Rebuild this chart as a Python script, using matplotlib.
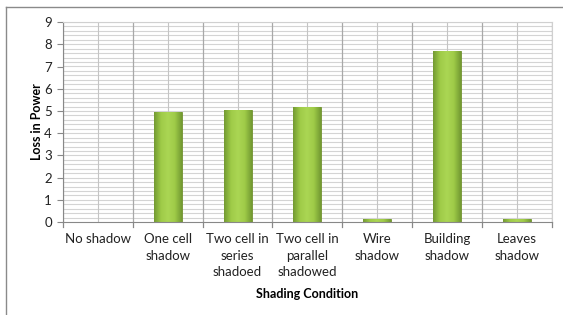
import numpy as np
import matplotlib.pyplot as plt
from matplotlib.lines import Line2D
from matplotlib.colors import LinearSegmentedColormap

categories = ["No shadow", "One cell\nshadow", "Two cell in\nseries\nshadoed",
              "Two cell in\nparallel\nshadowed", "Wire\nshadow", "Building\nshadow",
              "Leaves\nshadow"]
loss = [0.0, 4.95, 5.05, 5.2, 0.15, 7.7, 0.15]
y_ticks = list(range(0, 10))

plt.rcParams["font.family"] = ["Lato", "DejaVu Sans"]

fig = plt.figure(figsize=(5.63, 3.15), dpi=100)
ax = fig.add_axes([0.112, 0.295, 0.868, 0.635])

x = np.arange(len(categories))

# grid: fine horizontal lines every 0.2, vertical at boundaries and centres
for yv in np.arange(0.2, 9.01, 0.2):
    ax.axhline(yv, color="#d4d4d4", lw=0.8, zorder=0)
for xv in np.arange(-0.5, len(categories), 1.0):
    ax.axvline(xv, color="#a8a8a8", lw=0.9, zorder=0.5)
for xv in x:
    ax.axvline(xv, color="#c4c4c4", lw=0.8, zorder=0.5)

# gradient bars
cmap = LinearSegmentedColormap.from_list(
    "grn", ["#739a32", "#9fcb48", "#abd654", "#9fcb48", "#739a32"])
grad = np.linspace(0, 1, 64).reshape(1, -1)
width = 0.4
bars = ax.bar(x, loss, width=width, color="#9fcb48", edgecolor="#6f8f30",
              lw=0.6, zorder=2)
for b in bars:
    if b.get_height() <= 0:
        continue
    x0, y0 = b.get_x(), b.get_y()
    im = ax.imshow(grad, cmap=cmap, aspect="auto", zorder=2.5,
                   extent=[x0, x0 + b.get_width(), y0, y0 + b.get_height()])
    im.set_clip_path(b)
ax.set_xlim(-0.5, len(categories) - 0.5)
ax.set_ylim(0, 9)

ax.set_xticks(x)
ax.set_yticks(y_ticks)
ax.set_xticklabels(categories, fontsize=9.5, color="#222222", linespacing=1.45)
ax.set_yticklabels([str(v) for v in y_ticks], fontsize=9.5, color="#222222")
ax.tick_params(axis="y", length=4, color="#888888", pad=4)
ax.tick_params(axis="x", length=0, pad=8)
# tick marks on category boundaries
for xv in np.arange(-0.5, len(categories), 1.0):
    ax.plot([xv, xv], [0, -0.2], color="#888888", lw=0.9, clip_on=False)

for s in ["left", "bottom"]:
    ax.spines[s].set_color("#888888")
for s in ["top", "right"]:
    ax.spines[s].set_color("#d0d0d0")

ax.set_ylabel("Loss in Power", fontsize=9, fontweight="bold", labelpad=1)
ax.set_xlabel("Shading Condition", fontsize=9, fontweight="bold", labelpad=7)

# outer chart frame (left and top edges)
fig.add_artist(Line2D([6 / 563, 6 / 563], [0, 1 - 7 / 315], color="#8a8a8a", lw=1.0))
fig.add_artist(Line2D([6 / 563, 1], [1 - 7 / 315, 1 - 7 / 315], color="#8a8a8a", lw=1.0))

fig.savefig("out.png", dpi=100)
